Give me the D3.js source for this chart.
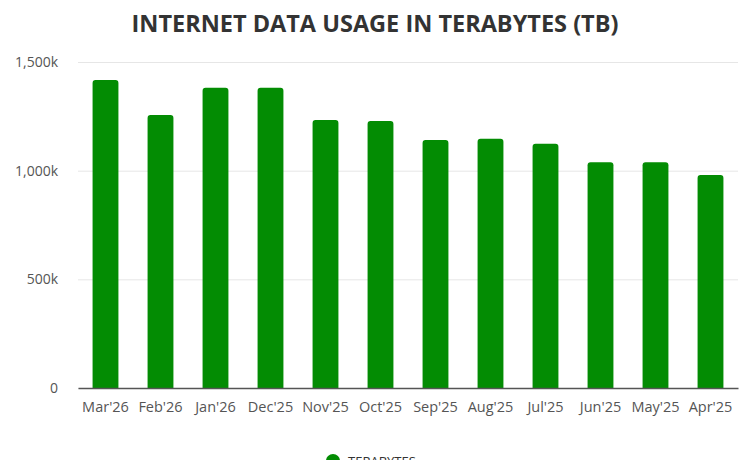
<!DOCTYPE html>
<html><head><meta charset="utf-8">
<script src="https://cdn.jsdelivr.net/npm/d3@7"></script>
<style>html,body{margin:0;padding:0;background:#fff;}svg{display:block;font-family:"Open Sans",sans-serif;}</style>
</head><body><svg id="c" width="750" height="460"></svg>
<script>
const categories = ["Mar'26","Feb'26","Jan'26","Dec'25","Nov'25","Oct'25","Sep'25","Aug'25","Jul'25","Jun'25","May'25","Apr'25"];
const terabytes = [1417000,1256000,1381000,1381000,1233000,1229000,1141000,1147000,1124000,1039000,1039000,980000];
const yTicks = [0,500000,1000000,1500000];
const yTickLabels = ["0","500k","1,000k","1,500k"];
const seriesName = "TERABYTES";
const title = "INTERNET DATA USAGE IN TERABYTES (TB)";
const color = "#038c03";

const svg = d3.select("#c");
const m = {l:78, r:12, t:62, b:72};
const W = 750, H = 460;
const x = d3.scaleBand().domain(categories).range([m.l, W-m.r]).paddingInner(0.53).paddingOuter(0.265);
const y = d3.scaleLinear().domain([0,1500000]).range([H-m.b, m.t]);

svg.append("text").attr("x",375).attr("y",32).attr("text-anchor","middle")
  .attr("font-size",23.5).attr("font-weight","bold").attr("fill","#333").text(title);

const ya = svg.append("g").attr("transform",`translate(${m.l},0)`)
  .call(d3.axisLeft(y).tickValues(yTicks).tickSize(-(W-m.r-m.l)).tickFormat((d,i)=>yTickLabels[i]));
ya.select(".domain").remove();
ya.selectAll(".tick line").attr("stroke","#e6e6e6");
ya.selectAll(".tick text").attr("x",-20).attr("font-size",14).attr("fill","#555").attr("font-family","'Open Sans',sans-serif");

const r = 3;
svg.append("g").selectAll("path").data(terabytes).join("path")
  .attr("fill",color)
  .attr("d",(d,i)=>{
    const x0 = x(categories[i]), w = x.bandwidth(), y0 = y(d), y1 = y(0);
    return `M${x0},${y1}V${y0+r}Q${x0},${y0} ${x0+r},${y0}H${x0+w-r}Q${x0+w},${y0} ${x0+w},${y0+r}V${y1}Z`;
  });

const xa = svg.append("g").attr("transform",`translate(0,${y(0)})`).call(d3.axisBottom(x).tickSize(0).tickPadding(14));
xa.select(".domain").attr("stroke","#555").attr("stroke-width",1.5);
xa.selectAll(".tick text").attr("font-size",14.5).attr("fill","#555").attr("font-family","'Open Sans',sans-serif");

const lg = svg.append("g");
lg.append("circle").attr("cx",333).attr("cy",461).attr("r",7).attr("fill",color);
lg.append("text").attr("x",348).attr("y",466).attr("font-size",13).attr("fill","#333").text(seriesName);
</script></body></html>
